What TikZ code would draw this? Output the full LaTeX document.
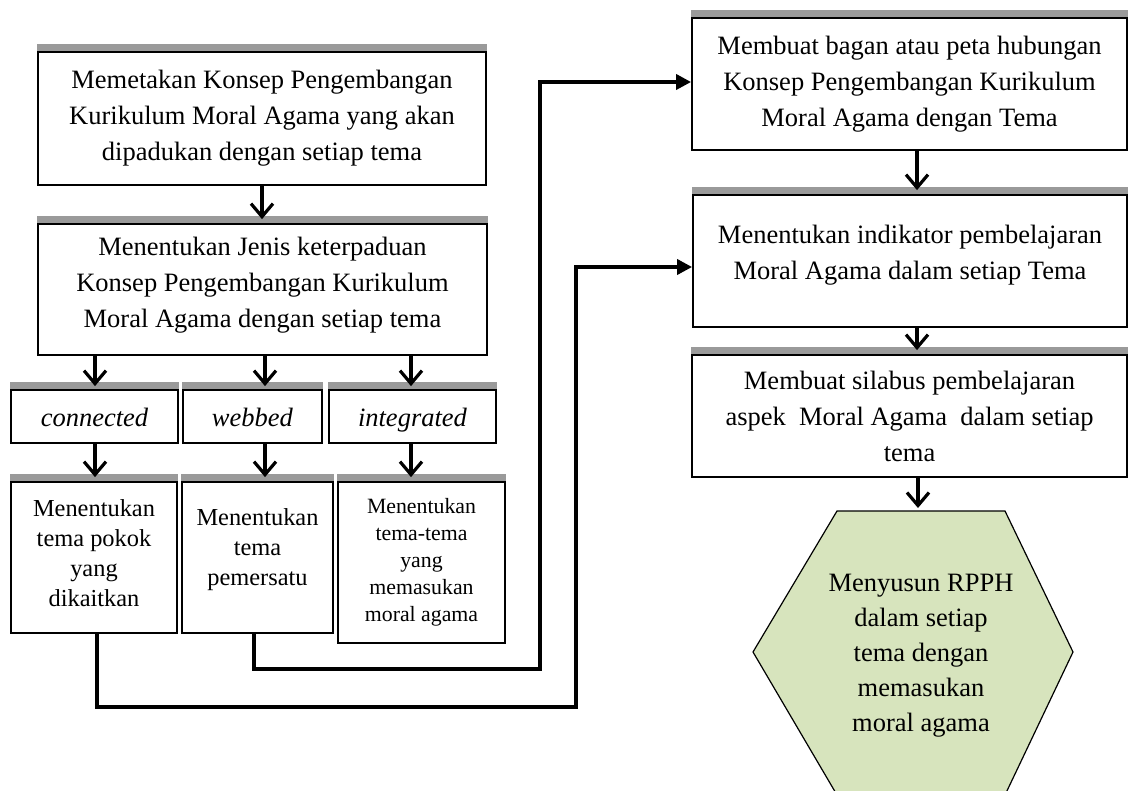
\documentclass[tikz,border=0pt]{standalone}
\usepackage{fontspec}
\setmainfont{Liberation Serif}
\usetikzlibrary{arrows.meta,calc}
\newcommand\szmain{\fontsize{26.5}{36}\selectfont}
\newcommand\szmid{\fontsize{24.4}{30}\selectfont}
\newcommand\szsmall{\fontsize{21.8}{27}\selectfont}
\definecolor{barcol}{HTML}{9A9A9A}
\definecolor{hexcol}{HTML}{D7E4BD}
\tikzset{
  boxnode/.style={draw, line width=1.8pt, inner sep=0pt, align=center, font=\szmain},
  labelbox/.style={boxnode, text height=19pt, text depth=0pt, minimum height=53pt},
  barfill/.style={fill=barcol},
  varrow/.style={line width=3.2pt, -{Straight Barb[length=13pt,width=22pt]}},
  harrow/.style={line width=3.6pt, -{Triangle[length=15pt,width=15pt]}},
}
\begin{document}
\begin{tikzpicture}[x=1pt,y=-1pt]
\useasboundingbox (0,0) rectangle (1129,791);
% left column
\node[boxnode, minimum width=448pt, minimum height=133pt] (b1) at (262,118.5)
  {Memetakan Konsep Pengembangan\\Kurikulum Moral Agama yang akan\\dipadukan dengan setiap tema};
\node[boxnode, minimum width=449pt, minimum height=131pt] (b2) at (262.5,289.5)
  {Menentukan Jenis keterpaduan\\Konsep Pengembangan Kurikulum\\Moral Agama dengan setiap tema\\[-22pt]};
\node[labelbox, minimum width=167pt] (con) at (94.5,416.5) {\textit{connected}};
\node[labelbox, minimum width=139pt] (web) at (252.5,416.5) {\textit{webbed}};
\node[labelbox, minimum width=167pt] (int) at (412.5,416.5) {\textit{integrated}};
\node[boxnode, font=\szmid, minimum width=166pt, minimum height=151pt] (ta) at (94,557.5)
  {Menentukan\\tema pokok\\yang\\dikaitkan\\[-21pt]};
\node[boxnode, font=\szmid, minimum width=151pt, minimum height=151pt] (tb) at (257.5,557.5)
  {Menentukan\\tema\\pemersatu\\[-9pt]};
\node[boxnode, font=\szsmall, minimum width=167pt, minimum height=161pt] (tc) at (421.5,562.5)
  {Menentukan\\tema-tema\\yang\\memasukan\\moral agama};
% right column
\node[boxnode, minimum width=435pt, minimum height=132pt] (r1) at (909.5,84)
  {Membuat bagan atau peta hubungan\\Konsep Pengembangan Kurikulum\\Moral Agama dengan Tema};
\node[boxnode, minimum width=434pt, minimum height=132pt] (r2) at (910,261)
  {Menentukan indikator pembelajaran\\Moral Agama dalam setiap Tema\\[-18pt]};
\node[boxnode, minimum width=435pt, minimum height=122pt] (r3) at (909.5,416)
  {Membuat silabus pembelajaran\\aspek~ Moral Agama~ dalam setiap\\tema};
% gray bars
\foreach \n in {b1,b2,con,web,int,ta,tb,tc,r1,r2,r3}
  \fill[barfill] (\n.north west) rectangle ($(\n.north east)+(0,-7)$);
% hexagon
\filldraw[fill=hexcol, draw=black, line width=1.2pt]
  (837,511) -- (1005,511) -- (1073,652) -- (1005,795) -- (837,795) -- (753,652) -- cycle;
\coordinate (hextop) at (918,511);
\node[align=center, font=\fontsize{26.5}{35}\selectfont] (hex) at (921,656)
  {Menyusun RPPH\\dalam setiap\\tema dengan\\memasukan\\moral agama};
% x positions of vertical arrows
\coordinate (xa) at (262,0);
\coordinate (xc) at (95,0);
\coordinate (xw) at (265,0);
\coordinate (xi) at (411,0);
\coordinate (xr) at (917,0);
\coordinate (xh) at (918,0);
\draw[varrow] (b1.south -| xa) -- ($(b2.north -| xa)+(0,-4)$);
\draw[varrow] (b2.south -| xc) -- ($(con.north -| xc)+(0,-3)$);
\draw[varrow] (b2.south -| xw) -- ($(web.north -| xw)+(0,-3)$);
\draw[varrow] (b2.south -| xi) -- ($(int.north -| xi)+(0,-3)$);
\draw[varrow] (con.south -| xc) -- ($(ta.north -| xc)+(0,-4)$);
\draw[varrow] (web.south -| xw) -- ($(tb.north -| xw)+(0,-4)$);
\draw[varrow] (int.south -| xi) -- ($(tc.north -| xi)+(0,-4)$);
\draw[varrow] (r1.south -| xr) -- ($(r2.north -| xr)+(0,-4)$);
\draw[varrow] (r2.south -| xr) -- ($(r3.north -| xr)+(0,-4)$);
\draw[varrow] (r3.south -| xh) -- ($(hextop)+(0,-3)$);
% long connectors
\coordinate (bdown) at (254,669);
\coordinate (bup) at (540,82);
\coordinate (adown) at (97,707);
\coordinate (aup) at (576,267);
\draw[harrow] (tb.south -| bdown) -- (bdown) -| (bup) -- (r1.west |- bup);
\draw[harrow] (ta.south -| adown) -- (adown) -| (aup) -- (r2.west |- aup);
\end{tikzpicture}
\end{document}
